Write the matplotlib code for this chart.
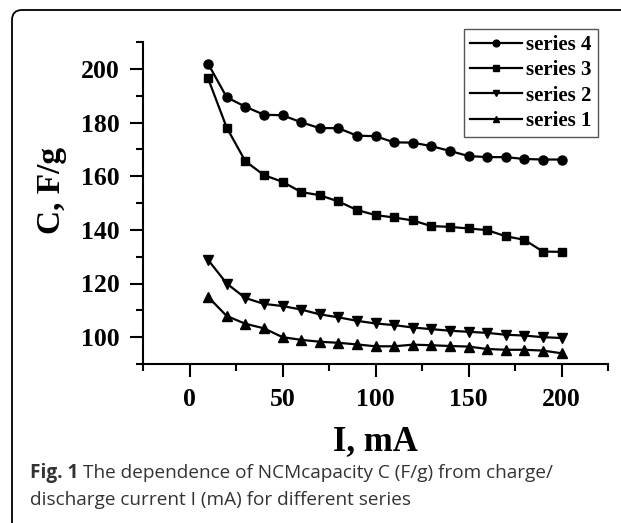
import matplotlib
matplotlib.use("Agg")
import matplotlib.pyplot as plt
from matplotlib.ticker import MultipleLocator
from matplotlib.patches import FancyBboxPatch
from matplotlib.transforms import IdentityTransform

# current, mA
current = [10, 20, 30, 40, 50, 60, 70, 80, 90, 100,
           110, 120, 130, 140, 150, 160, 170, 180, 190, 200]
# capacity, F/g
series4 = [201.9, 189.4, 185.9, 182.9, 182.7, 180.1, 177.9, 177.9, 175.1, 174.9,
           172.6, 172.5, 171.2, 169.4, 167.5, 167.1, 167.1, 166.4, 166.2, 166.2]
series3 = [196.4, 178.1, 165.6, 160.4, 157.9, 154.1, 152.9, 150.6, 147.4, 145.5,
           144.6, 143.5, 141.4, 141.1, 140.5, 139.9, 137.6, 136.3, 131.9, 131.8]
series2 = [128.8, 120.0, 114.6, 112.4, 111.6, 110.3, 108.5, 107.4, 106.1, 105.1,
           104.5, 103.6, 103.0, 102.4, 102.0, 101.6, 100.9, 100.6, 100.0, 99.7]
series1 = [115.0, 107.9, 105.0, 103.3, 100.0, 99.0, 98.3, 97.9, 97.3, 96.6,
           96.6, 97.2, 97.0, 96.7, 96.5, 95.6, 95.3, 95.3, 95.0, 94.0]
labels = ["series 4", "series 3", "series 2", "series 1"]

serif = "Liberation Serif"
W, H = 621, 523

fig = plt.figure(figsize=(W / 100, H / 100), dpi=100)
ax = fig.add_axes([143 / W, 1 - 364 / H, (608 - 143) / W, (364 - 42) / H])

ax.plot(current, series4, "-o", color="black", lw=1.6, ms=6.5, label=labels[0])
ax.plot(current, series3, "-s", color="black", lw=1.6, ms=5.5, label=labels[1])
ax.plot(current, series2, "-v", color="black", lw=1.6, ms=6.5, label=labels[2])
ax.plot(current, series1, "-^", color="black", lw=1.6, ms=6.5, label=labels[3])

ax.set_xlim(-25, 225)
ax.set_ylim(90, 210)
ax.xaxis.set_major_locator(MultipleLocator(50))
ax.xaxis.set_minor_locator(MultipleLocator(25))
ax.yaxis.set_major_locator(MultipleLocator(20))
ax.yaxis.set_minor_locator(MultipleLocator(10))

for s in ["top", "right"]:
    ax.spines[s].set_visible(False)
for s in ["left", "bottom"]:
    ax.spines[s].set_linewidth(1.5)

ax.tick_params(which="major", direction="out", length=9.5, width=1.5)
ax.tick_params(which="minor", direction="out", length=5, width=1.5)
ax.tick_params(axis="x", which="major", pad=8)
ax.tick_params(axis="y", which="major", pad=7)
for lab in ax.get_xticklabels() + ax.get_yticklabels():
    lab.set_fontfamily(serif)
    lab.set_fontweight("bold")
    lab.set_fontsize(18.5)

ax.set_xlabel("I, mA", fontfamily=serif, fontweight="bold", fontsize=25)
ax.xaxis.set_label_coords(0.5, -0.19)
ax.set_ylabel("C, F/g", fontfamily=serif, fontweight="bold", fontsize=24)
ax.yaxis.set_label_coords(-0.163, 0.54)

leg = fig.legend(loc="upper right", bbox_to_anchor=(598 / W, 1 - 29 / H),
                 prop={"family": serif, "weight": "bold", "size": 15},
                 fancybox=False, edgecolor="#555555", framealpha=1,
                 handlelength=2.5, handletextpad=0.2, labelspacing=0.25,
                 borderpad=0.3, borderaxespad=0, markerscale=0.75)
leg.get_frame().set_linewidth(1.0)

# rounded frame around the figure, running off the right and bottom edges
frame = FancyBboxPatch((12, -30), W + 40, H - 10 + 30,
                       boxstyle="round,pad=0,rounding_size=10",
                       transform=IdentityTransform(), fill=False,
                       edgecolor="black", linewidth=1.3, clip_on=False)
fig.patches.append(frame)

# caption
cap_y1 = 1 - 473 / H
cap_y2 = 1 - 500 / H
cap_size = 13.7
t1 = fig.text(30 / W, cap_y1, "Fig. 1", fontfamily="Open Sans", fontweight="bold",
              fontsize=cap_size, color="#333333", va="center")
fig.canvas.draw()
bb = t1.get_window_extent(fig.canvas.get_renderer())
fig.text(bb.x1 / W + 5 / W, cap_y1,
         "The dependence of NCMcapacity C (F/g) from charge/",
         fontfamily="Open Sans", fontsize=cap_size, color="#333333", va="center")
fig.text(30 / W, cap_y2, "discharge current I (mA) for different series",
         fontfamily="Open Sans", fontsize=cap_size, color="#333333", va="center")

fig.savefig("out.png", dpi=100)
